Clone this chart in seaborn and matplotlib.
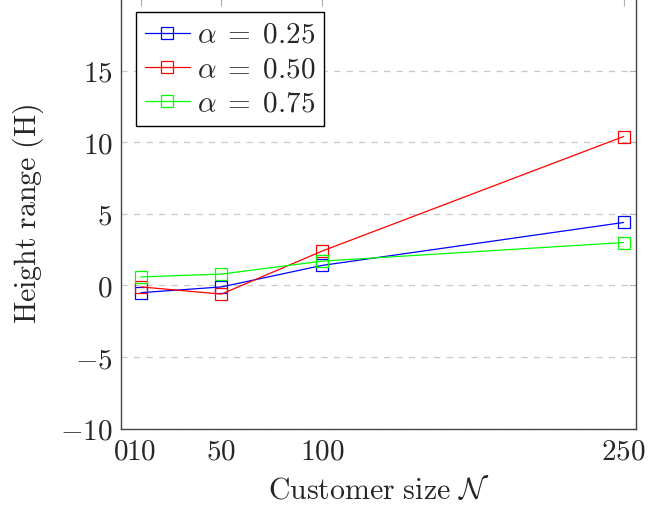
import matplotlib
matplotlib.use("Agg")
import matplotlib.pyplot as plt
import seaborn as sns
import pandas as pd

x_vals = [10, 50, 100, 250]
alpha_025 = [-0.5, -0.1, 1.4, 4.4]
alpha_050 = [-0.1, -0.6, 2.4, 10.4]
alpha_075 = [0.6, 0.8, 1.7, 3.0]
series_labels = [r"$\alpha\;=\;0.25$", r"$\alpha\;=\;0.50$", r"$\alpha\;=\;0.75$"]
colors = ["#0000ff", "#ff0000", "#00ff00"]
x_ticks = [0, 10, 50, 100, 250]
y_ticks = [-10, -5, 0, 5, 10, 15]

sns.set_style("white")
plt.rcParams["mathtext.fontset"] = "cm"
plt.rcParams["font.family"] = ["DejaVu Serif"]

fig = plt.figure(figsize=(6.5, 5.08), dpi=100)
ax = fig.add_axes([0.186, 0.156, 0.792, 0.846])

for vals, lab, c in zip([alpha_025, alpha_050, alpha_075], series_labels, colors):
    df = pd.DataFrame({"x": x_vals, "y": vals})
    sns.lineplot(data=df, x="x", y="y", ax=ax, color=c, marker="s", markersize=8,
                 markerfacecolor="none", markeredgecolor=c, markeredgewidth=0.9,
                 linewidth=0.9, label=lab)

ax.set_xlim(0, 256)
ax.set_ylim(-10, 20)
ax.set_xticks(x_ticks)
ax.set_xticklabels([f"${t}$" for t in x_ticks])
ax.set_yticks(y_ticks)
ax.set_yticklabels([f"${t}$" if t >= 0 else f"$-{abs(t)}$" for t in y_ticks])
ax.tick_params(direction="in", length=5, width=0.8, color="#b0b0b0",
               labelsize=21, top=True, right=True, pad=6)
ax.yaxis.grid(True, linestyle=(0, (5, 5)), color="#c8c8c8", linewidth=0.9)
ax.xaxis.grid(False)
for s in ax.spines.values():
    s.set_color("#444444")
    s.set_linewidth(1.0)

ax.set_xlabel(r"$\mathrm{Customer\ size}\ \mathcal{N}$", fontsize=21.5, labelpad=8)
ax.set_ylabel(r"$\mathrm{Height\ range\ (H)}$", fontsize=21.5, labelpad=10)

leg = ax.legend(loc="upper left", fontsize=21, frameon=True, fancybox=False,
                borderpad=0.3, handlelength=1.55, handletextpad=0.25, labelspacing=0.22,
                borderaxespad=0, bbox_to_anchor=(136 / 650, (508 - 12) / 508),
                bbox_transform=fig.transFigure)
leg.get_frame().set_edgecolor("black")
leg.get_frame().set_linewidth(1.0)
leg.get_frame().set_alpha(1)

fig.savefig("out.png", dpi=100)
